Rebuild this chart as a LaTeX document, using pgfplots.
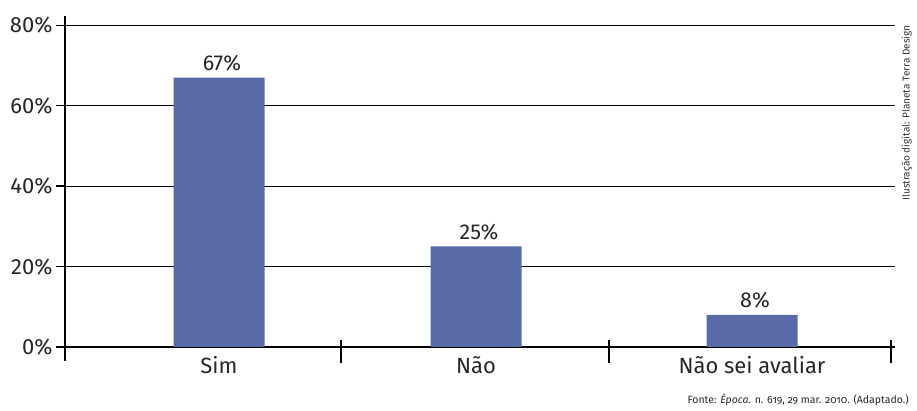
\documentclass[border=0pt]{standalone}
\usepackage{pgfplots}
\pgfplotsset{compat=1.18}
\usepackage{fontspec}
\setmainfont{Fira Sans}
\definecolor{barblue}{RGB}{87,107,166}
\begin{document}
\begin{tikzpicture}
\path[use as bounding box] (0,0) rectangle (917pt,411pt);
\begin{axis}[
  at={(65pt,50pt)}, anchor=south west,
  scale only axis,
  x=1pt, y=4.02pt,
  xmin=65, xmax=895, ymin=-3.5, ymax=82.3,
  axis x line*=middle, axis y line*=left,
  axis line style={line width=1.3pt, black},
  ytick={0,20,40,60,80},
  yticklabels={0\%,20\%,40\%,60\%,80\%},
  ymajorgrids, grid style={black, line width=1.2pt},
  tick align=outside, major tick length=9pt,
  ytick style={line width=1.3pt, black},
  xtick={219,476,752},
  xticklabels={Sim,Não,Não sei avaliar},
  xtick style={draw=none},
  tick label style={font=\fontsize{22}{26}\selectfont, text=black!85},
  xticklabel style={yshift=3pt},
  clip=false,
  /pgf/number format/assume math mode=true,
]
\addplot[ybar, bar width=91pt, fill=barblue, draw=none,
  nodes near coords={\pgfmathprintnumber{\pgfplotspointmeta}\%},
  every node near coord/.append style={font=\fontsize{21.5}{25}\selectfont, text=black!85, xshift=3pt, yshift=3pt}]
  coordinates {(219,67) (476,25) (752,8)};
\addplot[black, line width=1.3pt] coordinates {(341,-4) (341,1.6)};
\addplot[black, line width=1.3pt] coordinates {(609,-4) (609,1.6)};
\addplot[black, line width=1.3pt] coordinates {(891,-4) (891,1.6)};
\end{axis}
\node[rotate=90, font=\fontsize{10}{12}\selectfont, text=black!80] at (907pt,298pt) {Ilustração digital: Planeta Terra Design};
\node[anchor=base east, inner sep=0pt, font=\fontsize{10.5}{13}\selectfont, text=black!85] at (909pt,7pt) {\addfontfeatures{Numbers=OldStyle}Fonte: \textit{Época}. n. 619, 29 mar. 2010. (Adaptado.)};
\end{tikzpicture}
\end{document}
